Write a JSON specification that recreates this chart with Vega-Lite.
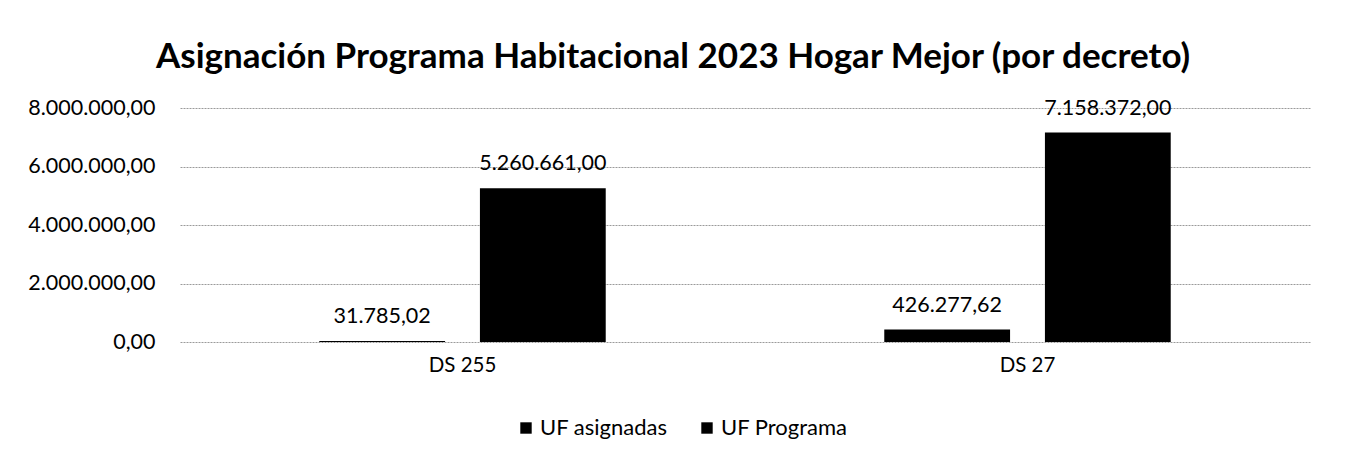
{
  "$schema": "https://vega.github.io/schema/vega-lite/v6.json",
  "width": 1130,
  "height": 234,
  "autosize": {"type": "none"},
  "padding": {"left": 180, "top": 108, "right": 37, "bottom": 117},
  "background": "white",
  "title": {
    "text": "Asignación Programa Habitacional 2023 Hogar Mejor (por decreto)",
    "font": "Lato",
    "fontSize": 35,
    "fontWeight": "bold",
    "color": "#000000",
    "anchor": "middle",
    "dx": -72,
    "offset": 22
  },
  "config": {
    "locale": {
      "number": {"decimal": ",", "thousands": ".", "grouping": [3], "currency": ["$", ""]}
    },
    "view": {"stroke": null},
    "font": "Lato"
  },
  "data": {
    "values": [
      {"decreto": "DS 255", "serie": "UF asignadas", "valor": 31785.02},
      {"decreto": "DS 255", "serie": "UF Programa", "valor": 5260661.00},
      {"decreto": "DS 27", "serie": "UF asignadas", "valor": 426277.62},
      {"decreto": "DS 27", "serie": "UF Programa", "valor": 7158372.00}
    ]
  },
  "encoding": {
    "x": {
      "field": "decreto",
      "type": "nominal",
      "sort": ["DS 255", "DS 27"],
      "scale": {"paddingInner": 0.493, "paddingOuter": 0.2465},
      "axis": {
        "title": null,
        "labelAngle": 0,
        "labelFont": "Lato",
        "labelFontSize": 20.5,
        "labelColor": "#000000",
        "labelPadding": 13,
        "ticks": false,
        "domain": false
      }
    },
    "xOffset": {
      "field": "serie",
      "type": "nominal",
      "sort": ["UF asignadas", "UF Programa"],
      "scale": {"paddingInner": 0.217, "paddingOuter": 0}
    },
    "y": {
      "field": "valor",
      "type": "quantitative",
      "scale": {"domain": [0, 8000000], "nice": false},
      "axis": {
        "title": null,
        "values": [0, 2000000, 4000000, 6000000, 8000000],
        "format": ",.2f",
        "labelFont": "Lato",
        "labelFontSize": 21.5,
        "labelColor": "#000000",
        "labelPadding": 25,
        "ticks": false,
        "domain": false,
        "grid": true,
        "gridColor": "#9a9a9a",
        "gridWidth": 1,
        "gridDash": [2, 1]
      }
    }
  },
  "layer": [
    {
      "mark": {"type": "bar", "color": "#000000"},
      "encoding": {
        "color": {
          "field": "serie",
          "type": "nominal",
          "sort": ["UF asignadas", "UF Programa"],
          "scale": {"range": ["#000000", "#000000"]},
          "legend": {
            "title": null,
            "orient": "none",
            "direction": "horizontal",
            "legendX": 335,
            "legendY": 309,
            "symbolType": "square",
            "symbolSize": 130,
            "symbolOpacity": 1,
            "labelFont": "Lato",
            "labelFontSize": 22,
            "labelColor": "#000000",
            "labelOffset": 3,
            "columnPadding": 28
          }
        }
      }
    },
    {
      "mark": {"type": "text", "baseline": "alphabetic", "dy": -18, "font": "Lato", "fontSize": 21.5, "color": "#000000"},
      "encoding": {
        "text": {"field": "valor", "type": "quantitative", "format": ",.2f"}
      }
    }
  ]
}
